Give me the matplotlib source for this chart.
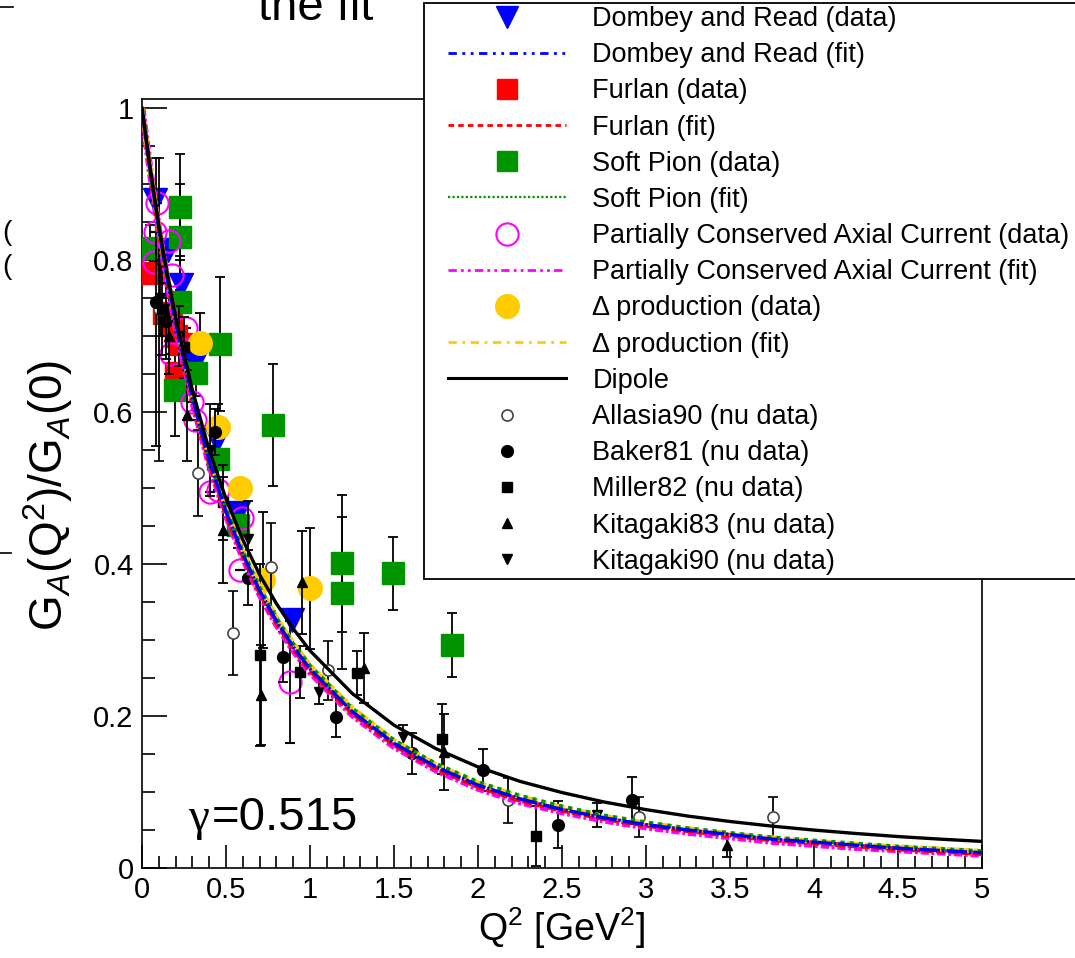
import numpy as np
import matplotlib
matplotlib.use("Agg")
import matplotlib.pyplot as plt
from matplotlib.lines import Line2D
from matplotlib.patches import Rectangle
from matplotlib.ticker import MultipleLocator

plt.rcParams['font.family'] = ['Liberation Sans', 'DejaVu Sans']
plt.rcParams['mathtext.fontset'] = 'custom'
plt.rcParams['mathtext.rm'] = 'Liberation Sans'
plt.rcParams['mathtext.it'] = 'Liberation Sans:italic'

# ---- fit curves ----
q2_fit = [0, 0.05, 0.1, 0.15, 0.2, 0.3, 0.4, 0.5, 0.6, 0.7, 0.8, 0.9, 1.0,
          1.25, 1.5, 1.75, 2.0, 2.25, 2.5, 2.75, 3.0, 3.25, 3.5, 3.75, 4.0,
          4.25, 4.5, 4.75, 5.0]
dipole = [1, .918, .846, .783, .726, .629, .550, .486, .432, .386, .348, .315, .286,
          .230, .188, .157, .133, .114, .0993, .0869, .0768, .0683, .0612, .0551, .0499,
          .0454, .0414, .0380, .035]
fit_sp = [1, .917, .843, .778, .720, .621, .540, .473, .417, .369, .329, .295, .266,
          .210, .168, .137, .113, .095, .081, .069, .060, .052, .046, .040, .036,
          .032, .028, .025, .022]
fit_dp = [1, .917, .843, .778, .721, .622, .541, .474, .418, .370, .330, .296, .267,
          .211, .168, .136, .112, .094, .080, .068, .059, .052, .045, .040, .035,
          .031, .028, .025, .022]
fit_dr = [1, .916, .841, .776, .718, .619, .536, .469, .413, .365, .325, .291, .262,
          .206, .164, .133, .109, .091, .077, .066, .057, .050, .044, .038, .034,
          .030, .026, .023, .020]
fit_fu = [1, .916, .840, .775, .717, .617, .534, .467, .411, .363, .323, .289, .260,
          .204, .162, .131, .107, .089, .076, .065, .056, .049, .043, .037, .033,
          .029, .025, .022, .019]
fit_pc = [1, .915, .839, .773, .715, .615, .532, .465, .409, .361, .321, .287, .258,
          .202, .160, .129, .105, .087, .074, .063, .054, .047, .041, .035, .031,
          .027, .024, .021, .018]

# ---- pion electroproduction data ----
dr_x = [0.077, 0.155, 0.232, 0.315, 0.446, 0.571, 0.893]
dr_y = [0.879, 0.813, 0.767, 0.664, 0.563, 0.467, 0.326]

fu_x = [0.065, 0.13, 0.17, 0.20, 0.23, 0.20]
fu_y = [0.783, 0.730, 0.715, 0.700, 0.690, 0.652]

sp_x = [0.048, 0.226, 0.226, 0.226, 0.196, 0.32, 0.464, 0.452, 0.571, 0.78,
        1.19, 1.19, 1.494, 1.845]
sp_y = [0.816, 0.870, 0.830, 0.745, 0.629, 0.651, 0.690, 0.538, 0.451, 0.583,
        0.401, 0.362, 0.388, 0.293]
sp_err = [0.03, 0.07, 0.07, 0.06, 0.06, 0.03, 0.088, 0.03, 0.03, 0.08,
          0.09, 0.10, 0.048, 0.042]

pc_x = [0.09, 0.08, 0.16, 0.07, 0.18, 0.26, 0.17, 0.30, 0.315, 0.405, 0.45,
        0.595, 0.583, 0.88]
pc_y = [0.875, 0.837, 0.825, 0.797, 0.780, 0.711, 0.677, 0.613, 0.589, 0.495,
        0.497, 0.460, 0.392, 0.245]
pc_err = [0, 0, 0, 0, 0, 0, 0, 0, 0, 0, 0, 0, 0, 0.08]

de_x = [0.345, 0.452, 0.583, 0.72, 1.0]
de_y = [0.691, 0.580, 0.500, 0.379, 0.368]
de_err = [0.04, 0.03, 0.012, 0.09, 0.08]

# ---- neutrino data ----
al_x = [0.10, 0.333, 0.54, 0.77, 1.11, 2.18, 2.96, 3.755]
al_y = [0.735, 0.520, 0.309, 0.396, 0.260, 0.089, 0.067, 0.067]
al_err = [0.20, 0.057, 0.055, 0.058, 0.039, 0.030, 0.026, 0.026]

ba_x = [0.085, 0.14, 0.435, 0.63, 0.84, 1.155, 1.607, 2.03, 2.476, 2.917]
ba_y = [0.745, 0.720, 0.574, 0.382, 0.278, 0.199, 0.151, 0.129, 0.057, 0.089]
ba_err = [0.19, 0.05, 0.03, 0.036, 0.033, 0.026, 0.027, 0.028, 0.031, 0.031]

mi_x = [0.12, 0.25, 0.48, 0.70, 0.94, 1.28, 1.786, 2.345]
mi_y = [0.735, 0.685, 0.481, 0.280, 0.258, 0.257, 0.170, 0.042]
mi_err = [0.06, 0.04, 0.05, 0.12, 0.034, 0.029, 0.046, 0.040]

k83_x = [0.16, 0.268, 0.48, 0.708, 0.952, 1.32, 1.80, 3.48]
k83_y = [0.700, 0.596, 0.445, 0.228, 0.376, 0.263, 0.153, 0.030]
k83_err = [0.05, 0.06, 0.07, 0.066, 0.068, 0.046, 0.05, 0.015]

k90_x = [0.11, 0.22, 0.405, 0.63, 1.054, 1.554, 2.71]
k90_y = [0.750, 0.700, 0.550, 0.433, 0.232, 0.172, 0.070]
k90_err = [0.05, 0.04, 0.06, 0.05, 0.016, 0.016, 0.016]

blue = '#0000ff'
red = '#ff0000'
green = '#009400'
magenta = '#ff00ff'
gold = '#ffcc00'

W, H = 1075, 958
fig = plt.figure(figsize=(W / 100, H / 100), dpi=100)
ax = fig.add_axes([142 / W, 90 / H, 840 / W, 769 / H])

eb = dict(ecolor='black', elinewidth=1.3, capsize=3.5, capthick=1.3, ls='none')

ax.errorbar(sp_x, sp_y, yerr=sp_err, marker='s', ms=16, mfc=green, mec=green, **eb, zorder=3)
ax.errorbar(pc_x, pc_y, yerr=pc_err, marker='o', ms=16, mfc='none', mec=magenta, mew=1.5, **eb, zorder=3)
ax.errorbar(de_x, de_y, yerr=de_err, marker='o', ms=17, mfc=gold, mec=gold, **eb, zorder=3)
ax.plot(fu_x, fu_y, ls='none', marker='s', ms=16, color=red, zorder=3)
ax.plot(dr_x, dr_y, ls='none', marker='v', ms=17, color=blue, zorder=3)

ax.errorbar(al_x, al_y, yerr=al_err, marker='o', ms=8, mfc='white', mec='#444444', mew=1.2, **eb, zorder=4)
ax.errorbar(ba_x, ba_y, yerr=ba_err, marker='o', ms=8.5, mfc='black', mec='black', **eb, zorder=4)
ax.errorbar(mi_x, mi_y, yerr=mi_err, marker='s', ms=7.5, mfc='black', mec='black', **eb, zorder=4)
ax.errorbar(k83_x, k83_y, yerr=k83_err, marker='^', ms=7.5, mfc='black', mec='black', **eb, zorder=4)
ax.errorbar(k90_x, k90_y, yerr=k90_err, marker='v', ms=7.5, mfc='black', mec='black', **eb, zorder=4)

ax.plot(q2_fit, fit_pc, color=magenta, lw=5, ls=(0, (1.2, 0.4, 0.4, 0.4)), zorder=5)
ax.plot(q2_fit, fit_fu, color=red, lw=3.5, ls=(0, (2, 0.6)), zorder=5)
ax.plot(q2_fit, fit_dp, color=gold, lw=3.5, ls=(0, (3, 0.8, 1, 0.8)), zorder=5)
ax.plot(q2_fit, fit_sp, color=green, lw=3, ls=(0, (1, 1.2)), zorder=5)
ax.plot(q2_fit, fit_dr, color=blue, lw=2.5, ls=(0, (6, 0.6, 0.6, 0.6)), zorder=5)
ax.plot(q2_fit, dipole, color='black', lw=2.4, zorder=6)

ax.set_xlim(0, 5)
ax.set_ylim(0, 1.012)
ax.set_xticks(np.arange(0, 5.01, 0.5))
ax.set_xticklabels(['0', '0.5', '1', '1.5', '2', '2.5', '3', '3.5', '4', '4.5', '5'])
ax.set_yticks([0, 0.2, 0.4, 0.6, 0.8, 1.0])
ax.set_yticklabels(['0', '0.2', '0.4', '0.6', '0.8', '1'])
ax.xaxis.set_minor_locator(MultipleLocator(0.1))
ax.yaxis.set_minor_locator(MultipleLocator(0.05))
ax.tick_params(which='both', direction='in', top=False, right=False, width=1.2, labelsize=21)
ax.tick_params(axis='x', which='major', length=16.5, pad=6)
ax.tick_params(axis='x', which='minor', length=8.5)
ax.tick_params(axis='y', which='major', length=18, pad=6)
ax.tick_params(axis='y', which='minor', length=9)
for s in ax.spines.values():
    s.set_linewidth(1.2)

fig.text(48 / W, 1 - 495 / H, r'G$_{A}$(Q$^{2}$)/G$_{A}$(0)', rotation=90,
         ha='center', va='center', fontsize=33)
fig.text(561 / W, 1 - 928 / H, r'Q$^{2}$ [GeV$^{2}$]', ha='center', va='center', fontsize=27)

ax.text(188 / W, 1 - 830 / H, 'γ', transform=fig.transFigure, fontsize=34,
        family='Liberation Serif', va='baseline')
ax.text(212 / W, 1 - 830 / H, '=0.515', transform=fig.transFigure, fontsize=34, va='baseline')

# bits of neighbouring panels cut by the crop
fig.text(258 / W, 1 - 20 / H, 'the fit', fontsize=34, va='baseline')
fig.text(2 / W, 1 - 240 / H, '(', fontsize=20, va='baseline')
fig.text(2 / W, 1 - 274 / H, '(', fontsize=20, va='baseline')
fig.add_artist(Line2D([0, 13 / W], [1 - 7 / H, 1 - 7 / H], color='black', lw=1.2))
fig.add_artist(Line2D([0, 11 / W], [1 - 553 / H, 1 - 553 / H], color='black', lw=1.2))

# legend
fig.add_artist(Rectangle((424 / W, 1 - 579 / H), 660 / W, 576 / H, transform=fig.transFigure,
                         fc='white', ec='black', lw=1.3, zorder=4))
handles = [
    Line2D([], [], ls='none', marker='v', ms=16, color=blue),
    Line2D([], [], color=blue, lw=2, ls=(0, (3, 2, 1, 2, 1, 2))),
    Line2D([], [], ls='none', marker='s', ms=15, color=red),
    Line2D([], [], color=red, lw=2, ls=(0, (2, 1.5))),
    Line2D([], [], ls='none', marker='s', ms=15, color=green),
    Line2D([], [], color=green, lw=1.6, ls=(0, (1, 1))),
    Line2D([], [], ls='none', marker='o', ms=16, mfc='none', mec=magenta, mew=1.5),
    Line2D([], [], color=magenta, lw=2, ls=(0, (3, 1.5, 1, 1.5, 1, 1.5))),
    Line2D([], [], ls='none', marker='o', ms=17, color=gold),
    Line2D([], [], color=gold, lw=2, ls=(0, (3, 2, 1, 2))),
    Line2D([], [], color='black', lw=2.2),
    Line2D([], [], ls='none', marker='o', ms=8, mfc='white', mec='#444444', mew=1.2),
    Line2D([], [], ls='none', marker='o', ms=8.5, color='black'),
    Line2D([], [], ls='none', marker='s', ms=7.5, color='black'),
    Line2D([], [], ls='none', marker='^', ms=7.5, color='black'),
    Line2D([], [], ls='none', marker='v', ms=7.5, color='black'),
]
labels = [
    'Dombey and Read (data)', 'Dombey and Read (fit)',
    'Furlan (data)', 'Furlan (fit)',
    'Soft Pion (data)', 'Soft Pion (fit)',
    'Partially Conserved Axial Current (data)', 'Partially Conserved Axial Current (fit)',
    'Δ production (data)', 'Δ production (fit)',
    'Dipole',
    'Allasia90 (nu data)', 'Baker81 (nu data)', 'Miller82 (nu data)',
    'Kitagaki83 (nu data)', 'Kitagaki90 (nu data)',
]
leg = fig.legend(handles, labels, loc='upper left', bbox_to_anchor=(448 / W, 1 - 6 / H),
                 frameon=False, fontsize=19.5, borderpad=0, borderaxespad=0,
                 handlelength=4.37, handletextpad=0.96, labelspacing=0.376)
leg.set_zorder(5)

fig.savefig('out.png', dpi=100)
plt.close(fig)
